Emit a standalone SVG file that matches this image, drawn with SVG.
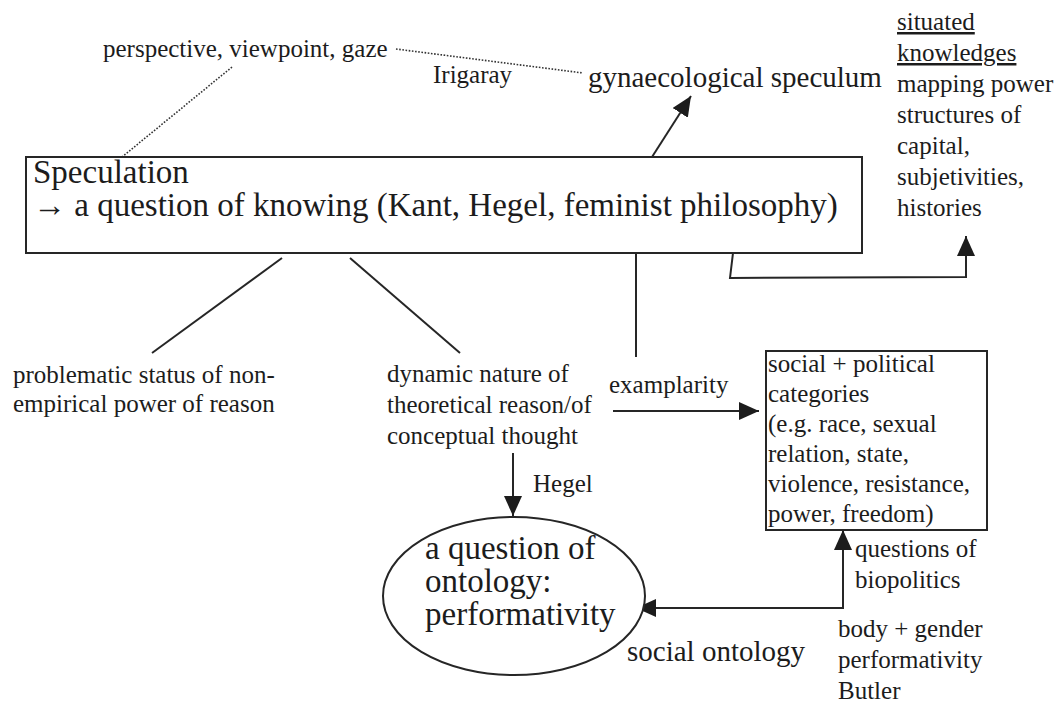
<svg xmlns="http://www.w3.org/2000/svg" width="1062" height="704" viewBox="0 0 1062 704">
  <style>
    text { font-family: "Liberation Serif", "Times New Roman", serif; fill: #1c1c1c; }
    .s25 { font-size: 25px; }
    .s29 { font-size: 29px; }
    .s33 { font-size: 33px; }
    .box { fill: #ffffff; stroke: #262626; stroke-width: 2; }
    .line { fill: none; stroke: #262626; stroke-width: 2; }
    .dots { fill: none; stroke: #333333; stroke-width: 1.6; stroke-dasharray: 1.6 1.6; }
    .arrow { fill: none; stroke: #262626; stroke-width: 2; marker-end: url(#head); }
    .uline { text-decoration: underline; }
  </style>
  <defs>
    <marker id="head" viewBox="0 0 20 18" refX="20" refY="9" markerWidth="20" markerHeight="18" markerUnits="userSpaceOnUse" orient="auto-start-reverse">
      <path d="M0,0 L20,9 L0,18 Z" fill="#1c1c1c"/>
    </marker>
  </defs>

  <rect width="1062" height="704" fill="#ffffff"/>

  <!-- connectors -->
  <g id="connectors">
    <line class="dots" x1="396" y1="49" x2="583" y2="73"/>
    <line class="dots" x1="232" y1="67" x2="122" y2="157"/>
    <line class="arrow" x1="652" y1="157" x2="691" y2="96"/>
    <path class="arrow" d="M733,253 L730,278 L966,277 L966,236"/>
    <line class="line" x1="282" y1="258" x2="152" y2="353"/>
    <line class="line" x1="350" y1="258" x2="460" y2="353"/>
    <line class="line" x1="636" y1="253" x2="636" y2="357"/>
    <line class="arrow" x1="613" y1="411" x2="759" y2="411"/>
    <line class="arrow" x1="513" y1="453" x2="513" y2="516"/>
    <path class="arrow" d="M636,608 L843,608 L843,530" style="marker-start:url(#head)"/>
  </g>

  <!-- edge labels -->
  <g id="labels">
    <text class="s25" x="433" y="83">Irigaray</text>
    <text class="s25" x="609" y="393">examplarity</text>
    <text class="s25" x="533" y="492">Hegel</text>
    <text class="s29" x="627" y="661">social ontology</text>
    <text class="s25"><tspan x="855" y="557">questions of</tspan><tspan x="855" y="588">biopolitics</tspan></text>
    <text class="s25"><tspan x="838" y="637">body + gender</tspan><tspan x="838" y="668">performativity</tspan><tspan x="838" y="699">Butler</tspan></text>
  </g>

  <g id="node-perspective">
    <text class="s25" x="103" y="57">perspective, viewpoint, gaze</text>
  </g>

  <g id="node-speculum">
    <text class="s29" x="588" y="87">gynaecological speculum</text>
  </g>

  <g id="node-situated">
    <text class="s25">
      <tspan class="uline" x="897" y="30">situated</tspan>
      <tspan class="uline" x="897" y="61">knowledges</tspan>
      <tspan x="897" y="92">mapping power</tspan>
      <tspan x="897" y="123">structures of</tspan>
      <tspan x="897" y="154">capital,</tspan>
      <tspan x="897" y="185">subjetivities,</tspan>
      <tspan x="897" y="216">histories</tspan>
    </text>
  </g>

  <g id="node-speculation">
    <rect class="box" x="26" y="157" width="836" height="96"/>
    <text class="s33"><tspan x="33" y="183">Speculation</tspan><tspan x="33" y="216">→ a question of knowing (Kant, Hegel, feminist philosophy)</tspan></text>
  </g>

  <g id="node-problematic">
    <text class="s25"><tspan x="13" y="383">problematic status of non-</tspan><tspan x="13" y="412">empirical power of reason</tspan></text>
  </g>

  <g id="node-dynamic">
    <text class="s25"><tspan x="387" y="382">dynamic nature of</tspan><tspan x="387" y="413">theoretical reason/of</tspan><tspan x="387" y="444">conceptual thought</tspan></text>
  </g>

  <g id="node-categories">
    <rect class="box" x="766" y="351" width="221" height="179"/>
    <text class="s25">
      <tspan x="768" y="372">social + political</tspan>
      <tspan x="768" y="402">categories</tspan>
      <tspan x="768" y="432">(e.g. race, sexual</tspan>
      <tspan x="768" y="462">relation, state,</tspan>
      <tspan x="768" y="492">violence, resistance,</tspan>
      <tspan x="768" y="522">power, freedom)</tspan>
    </text>
  </g>

  <g id="node-ontology">
    <ellipse class="box" cx="514" cy="596" rx="131" ry="79"/>
    <text class="s33"><tspan x="425" y="559">a question of</tspan><tspan x="425" y="592">ontology:</tspan><tspan x="425" y="625">performativity</tspan></text>
  </g>
</svg>
